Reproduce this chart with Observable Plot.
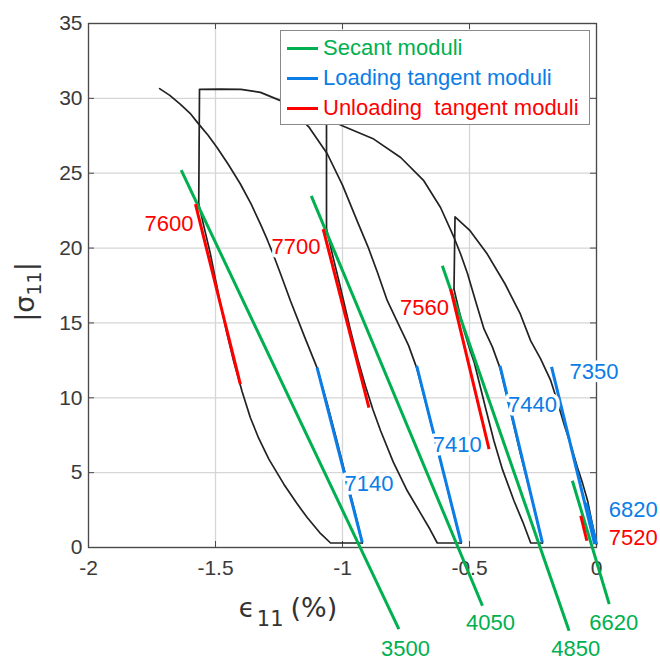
<!DOCTYPE html>
<html>
<head>
<meta charset="utf-8">
<script src="https://cdn.jsdelivr.net/npm/d3@7"></script>
<script src="https://cdn.jsdelivr.net/npm/@observablehq/plot@0.6"></script>
<style>
  html, body { margin: 0; padding: 0; background: #fff; overflow: hidden; }
  #wrap { position: relative; width: 660px; height: 660px; }
  #legend {
    position: absolute; left: 280px; top: 30px; width: 310px; height: 95px;
    background: #fff; border: 1px solid #8a8a8a; box-sizing: border-box;
    font-family: "Liberation Sans", Arial, sans-serif; font-size: 22px;
  }
  .row { position: absolute; left: 6px; height: 30px; display: flex; align-items: center; white-space: nowrap; }
  .sw { width: 31px; height: 3px; margin-right: 5px; }
</style>
</head>
<body>
<div id="wrap"></div>
<script>
// ---------- axis ticks ----------
const xTicks = [-2, -1.5, -1, -0.5, 0];
const yTicks = [0, 5, 10, 15, 20, 25, 30, 35];

// ---------- colours ----------
const green = "#00b050", blue = "#0a7de6", red = "#ff0000";

// ---------- black stress-strain curves: [strain %, |sigma11|] ----------
const loading1 = [[-1.720,30.65],[-1.680,30.2],[-1.639,29.62],[-1.600,29.0],[-1.566,28.28],[-1.530,27.55],[-1.494,26.72],[-1.450,25.6],[-1.402,24.28],[-1.360,22.95],[-1.323,21.6],[-1.297,20.6],[-1.271,19.5],[-1.240,18.1],[-1.205,16.48],[-1.150,14.1],[-1.100,12.0],[-1.060,9.6],[-1.020,7.0],[-0.980,4.3],[-0.950,2.3],[-0.922,0.3]];
const unloading1 = [[-1.566,22.94],[-1.545,21.4],[-1.520,19.6],[-1.500,17.9],[-1.481,16.3],[-1.455,14.3],[-1.428,12.4],[-1.395,10.4],[-1.363,8.68],[-1.330,7.3],[-1.290,5.9],[-1.231,4.23],[-1.180,2.95],[-1.139,2.0],[-1.090,1.0],[-1.047,0.3],[-0.922,0.3]];
const loading2 = [[-0.533,0.3],[-0.575,3.1],[-0.620,6.2],[-0.665,9.2],[-0.708,12.0],[-0.740,13.5],[-0.771,14.6],[-0.824,16.5],[-0.863,18.4],[-0.900,20.1],[-0.942,21.8],[-1.000,24.2],[-1.060,26.3],[-1.133,28.1],[-1.190,29.1],[-1.244,29.85],[-1.323,30.4],[-1.400,30.6],[-1.480,30.62],[-1.563,30.6],[-1.566,22.94]];
const unloading2 = [[-1.063,21.27],[-1.040,19.6],[-1.010,17.5],[-0.968,14.48],[-0.940,12.6],[-0.910,10.8],[-0.880,9.2],[-0.850,7.8],[-0.800,5.7],[-0.745,3.79],[-0.693,2.3],[-0.655,1.2],[-0.627,0.3],[-0.533,0.3]];
const loading3 = [[-0.213,0.3],[-0.255,3.3],[-0.300,6.3],[-0.340,9.2],[-0.380,12.0],[-0.410,13.4],[-0.443,14.6],[-0.475,16.4],[-0.508,18.3],[-0.535,19.6],[-0.561,20.71],[-0.614,22.71],[-0.680,24.5],[-0.771,26.05],[-0.877,27.28],[-1.001,28.17],[-1.040,28.5],[-1.063,28.7],[-1.063,21.27]];
const unloading3 = [[-0.561,17.26],[-0.545,16.1],[-0.525,14.7],[-0.500,13.3],[-0.482,12.4],[-0.460,10.9],[-0.435,9.2],[-0.404,7.13],[-0.370,5.2],[-0.325,3.12],[-0.290,1.7],[-0.259,0.3],[-0.213,0.3]];
const loading4 = [[0.000,0.23],[-0.018,1.7],[-0.035,3.12],[-0.055,4.3],[-0.075,5.34],[-0.100,6.8],[-0.128,8.24],[-0.155,9.8],[-0.180,11.14],[-0.220,12.6],[-0.259,13.8],[-0.300,15.6],[-0.360,17.6],[-0.430,19.6],[-0.500,21.2],[-0.557,22.09],[-0.561,17.26]];
const blackCurves = [loading1, unloading1, loading2, unloading2, loading3, unloading3, loading4];

// ---------- secant moduli (green) ----------
const secantText = ["3500", "4050", "4850", "6620"];
const secantX1 = [-1.635, -1.123, -0.607, -0.095];
const secantY1 = [25.2, 23.49, 18.82, 4.46];
const secantX2 = [-0.778, -0.449, -0.108, 0.050];
const secantY2 = [-5.45, -3.89, -5.56, -3.78];
const secantLabelX = [-0.752, -0.417, -0.082, 0.068];
const secantLabelY = [-6.77, -5.01, -6.77, -5.01];

// ---------- loading tangent moduli (blue) ----------
const loadText = ["7140", "7410", "7440", "7350", "6820"];
const loadX1 = [-1.100, -0.708, -0.380, -0.177, -0.040];
const loadY1 = [12.02, 12.14, 12.14, 12.07, 3.0];
const loadX2 = [-0.922, -0.533, -0.213, -0.007, 0.000];
const loadY2 = [0.33, 0.33, 0.33, 0.23, 0.23];
const loadLabelX = [-0.896, -0.548, -0.252, -0.010, 0.145];
const loadLabelY = [4.25, 6.86, 9.53, 11.74, 2.52];

// ---------- unloading tangent moduli (red) ----------
const unloadText = ["7600", "7700", "7560", "7520"];
const unloadX1 = [-1.579, -1.076, -0.574, -0.062];
const unloadY1 = [22.94, 21.27, 17.26, 2.12];
const unloadX2 = [-1.402, -0.896, -0.423, -0.038];
const unloadY2 = [10.9, 9.35, 6.57, 0.45];
const unloadLabelX = [-1.587, -1.087, -0.581, 0.145];
const unloadLabelY = [21.6, 20.1, 15.98, 0.61];
const unloadAnchor = ["end", "end", "end", "middle"];

// ---------- build tables ----------
const curveRows = blackCurves.flatMap((c, i) => c.map(([x, y]) => ({id: i, x, y})));
const seg = (t, x1, y1, x2, y2) => t.map((s, i) => ({text: s, x1: x1[i], y1: y1[i], x2: x2[i], y2: y2[i]}));
const secRows = seg(secantText, secantX1, secantY1, secantX2, secantY2);
const loadRows = seg(loadText, loadX1, loadY1, loadX2, loadY2);
const unloadRows = seg(unloadText, unloadX1, unloadY1, unloadX2, unloadY2);
const lab = (t, x, y, c, a) => t.map((s, i) => ({text: s, x: x[i], y: y[i], color: c, anchor: a ? a[i] : "middle"}));
const secLabels = lab(secantText, secantLabelX, secantLabelY, green);
const loadLabels = lab(loadText, loadLabelX, loadLabelY, blue);
const unloadLabels = lab(unloadText, unloadLabelX, unloadLabelY, red, unloadAnchor);

const W = 660, H = 660, mL = 88, mR = 64, mT = 23, mB = 113;
const fw = W - mL - mR, fh = H - mT - mB, tk = 6;

const labelText = (rows, anchor) => Plot.text(rows, {
  x: "x", y: "y", text: "text", fill: d => d.color, textAnchor: anchor,
  fontSize: 22, stroke: "white", strokeWidth: 7, paintOrder: "stroke"
});

const chart = Plot.plot({
  width: W, height: H,
  marginLeft: mL, marginRight: mR, marginTop: mT, marginBottom: mB,
  x: {domain: [-2, 0]},
  y: {domain: [0, 35]},
  style: {fontFamily: "'Liberation Sans', Arial, sans-serif", background: "white", overflow: "visible"},
  marks: [
    Plot.gridX(xTicks, {stroke: "#d6d6d6", strokeOpacity: 1, strokeWidth: 1.3}),
    Plot.gridY(yTicks, {stroke: "#d6d6d6", strokeOpacity: 1, strokeWidth: 1.3}),
    Plot.tickX(xTicks, {x: d => d, stroke: "#4a4a4a", insetTop: fh - tk}),
    Plot.tickX(xTicks, {x: d => d, stroke: "#4a4a4a", insetBottom: fh - tk}),
    Plot.tickY(yTicks, {y: d => d, stroke: "#4a4a4a", insetRight: fw - tk}),
    Plot.tickY(yTicks, {y: d => d, stroke: "#4a4a4a", insetLeft: fw - tk}),
    Plot.frame({stroke: "#4a4a4a", strokeWidth: 1.3}),
    Plot.axisX(xTicks, {tickSize: 0, tickPadding: 13, fontSize: 21, fill: "#3a3a3a", label: null, tickFormat: d => String(d)}),
    Plot.axisY(yTicks, {tickSize: 0, tickPadding: 6, fontSize: 21, fill: "#3a3a3a", label: null, tickFormat: d => String(d)}),
    Plot.line(curveRows, {x: "x", y: "y", z: "id", stroke: "#222", strokeWidth: 1.7}),
    Plot.link(secRows, {x1: "x1", y1: "y1", x2: "x2", y2: "y2", stroke: green, strokeWidth: 3}),
    Plot.link(loadRows, {x1: "x1", y1: "y1", x2: "x2", y2: "y2", stroke: blue, strokeWidth: 3}),
    Plot.link(unloadRows, {x1: "x1", y1: "y1", x2: "x2", y2: "y2", stroke: red, strokeWidth: 3}),
    labelText(secLabels, "middle"),
    labelText(loadLabels, "middle"),
    labelText(unloadLabels.filter(d => d.anchor === "end"), "end"),
    labelText(unloadLabels.filter(d => d.anchor === "middle"), "middle")
  ]
});

const wrap = document.getElementById("wrap");
wrap.appendChild(chart);

// axis titles (real text with subscripts)
const svg = d3.select(chart);
const xl = svg.append("text").attr("x", 288).attr("y", 617)
  .attr("font-family", "'DejaVu Sans', sans-serif").attr("fill", "#333");
xl.append("tspan").attr("font-size", 26).text("ϵ");
xl.append("tspan").attr("font-size", 21).attr("dy", 9).attr("dx", 2).text("11");
xl.append("tspan").attr("font-size", 27).attr("dy", -9).attr("dx", 7).text("(%)");

const yl = svg.append("text").attr("transform", "translate(34,292) rotate(-90)")
  .attr("text-anchor", "middle").attr("font-family", "'DejaVu Sans', sans-serif").attr("fill", "#333");
yl.append("tspan").attr("font-size", 27).text("|");
yl.append("tspan").attr("font-size", 27).text("σ");
yl.append("tspan").attr("font-size", 19).attr("dy", 7).text("11");
yl.append("tspan").attr("font-size", 27).attr("dy", -7).text("|");

// legend
const legendItems = [
  {label: "Secant moduli", color: green},
  {label: "Loading tangent moduli", color: blue},
  {label: "Unloading  tangent moduli", color: red}
];
const leg = document.createElement("div");
leg.id = "legend";
legendItems.forEach((it, i) => {
  const r = document.createElement("div");
  r.className = "row";
  r.style.top = (2 + i * 30) + "px";
  const sw = document.createElement("div");
  sw.className = "sw";
  sw.style.background = it.color;
  const t = document.createElement("span");
  t.textContent = it.label;
  t.style.color = it.color;
  t.style.whiteSpace = "pre";
  r.appendChild(sw); r.appendChild(t);
  leg.appendChild(r);
});
wrap.appendChild(leg);
</script>
</body>
</html>
